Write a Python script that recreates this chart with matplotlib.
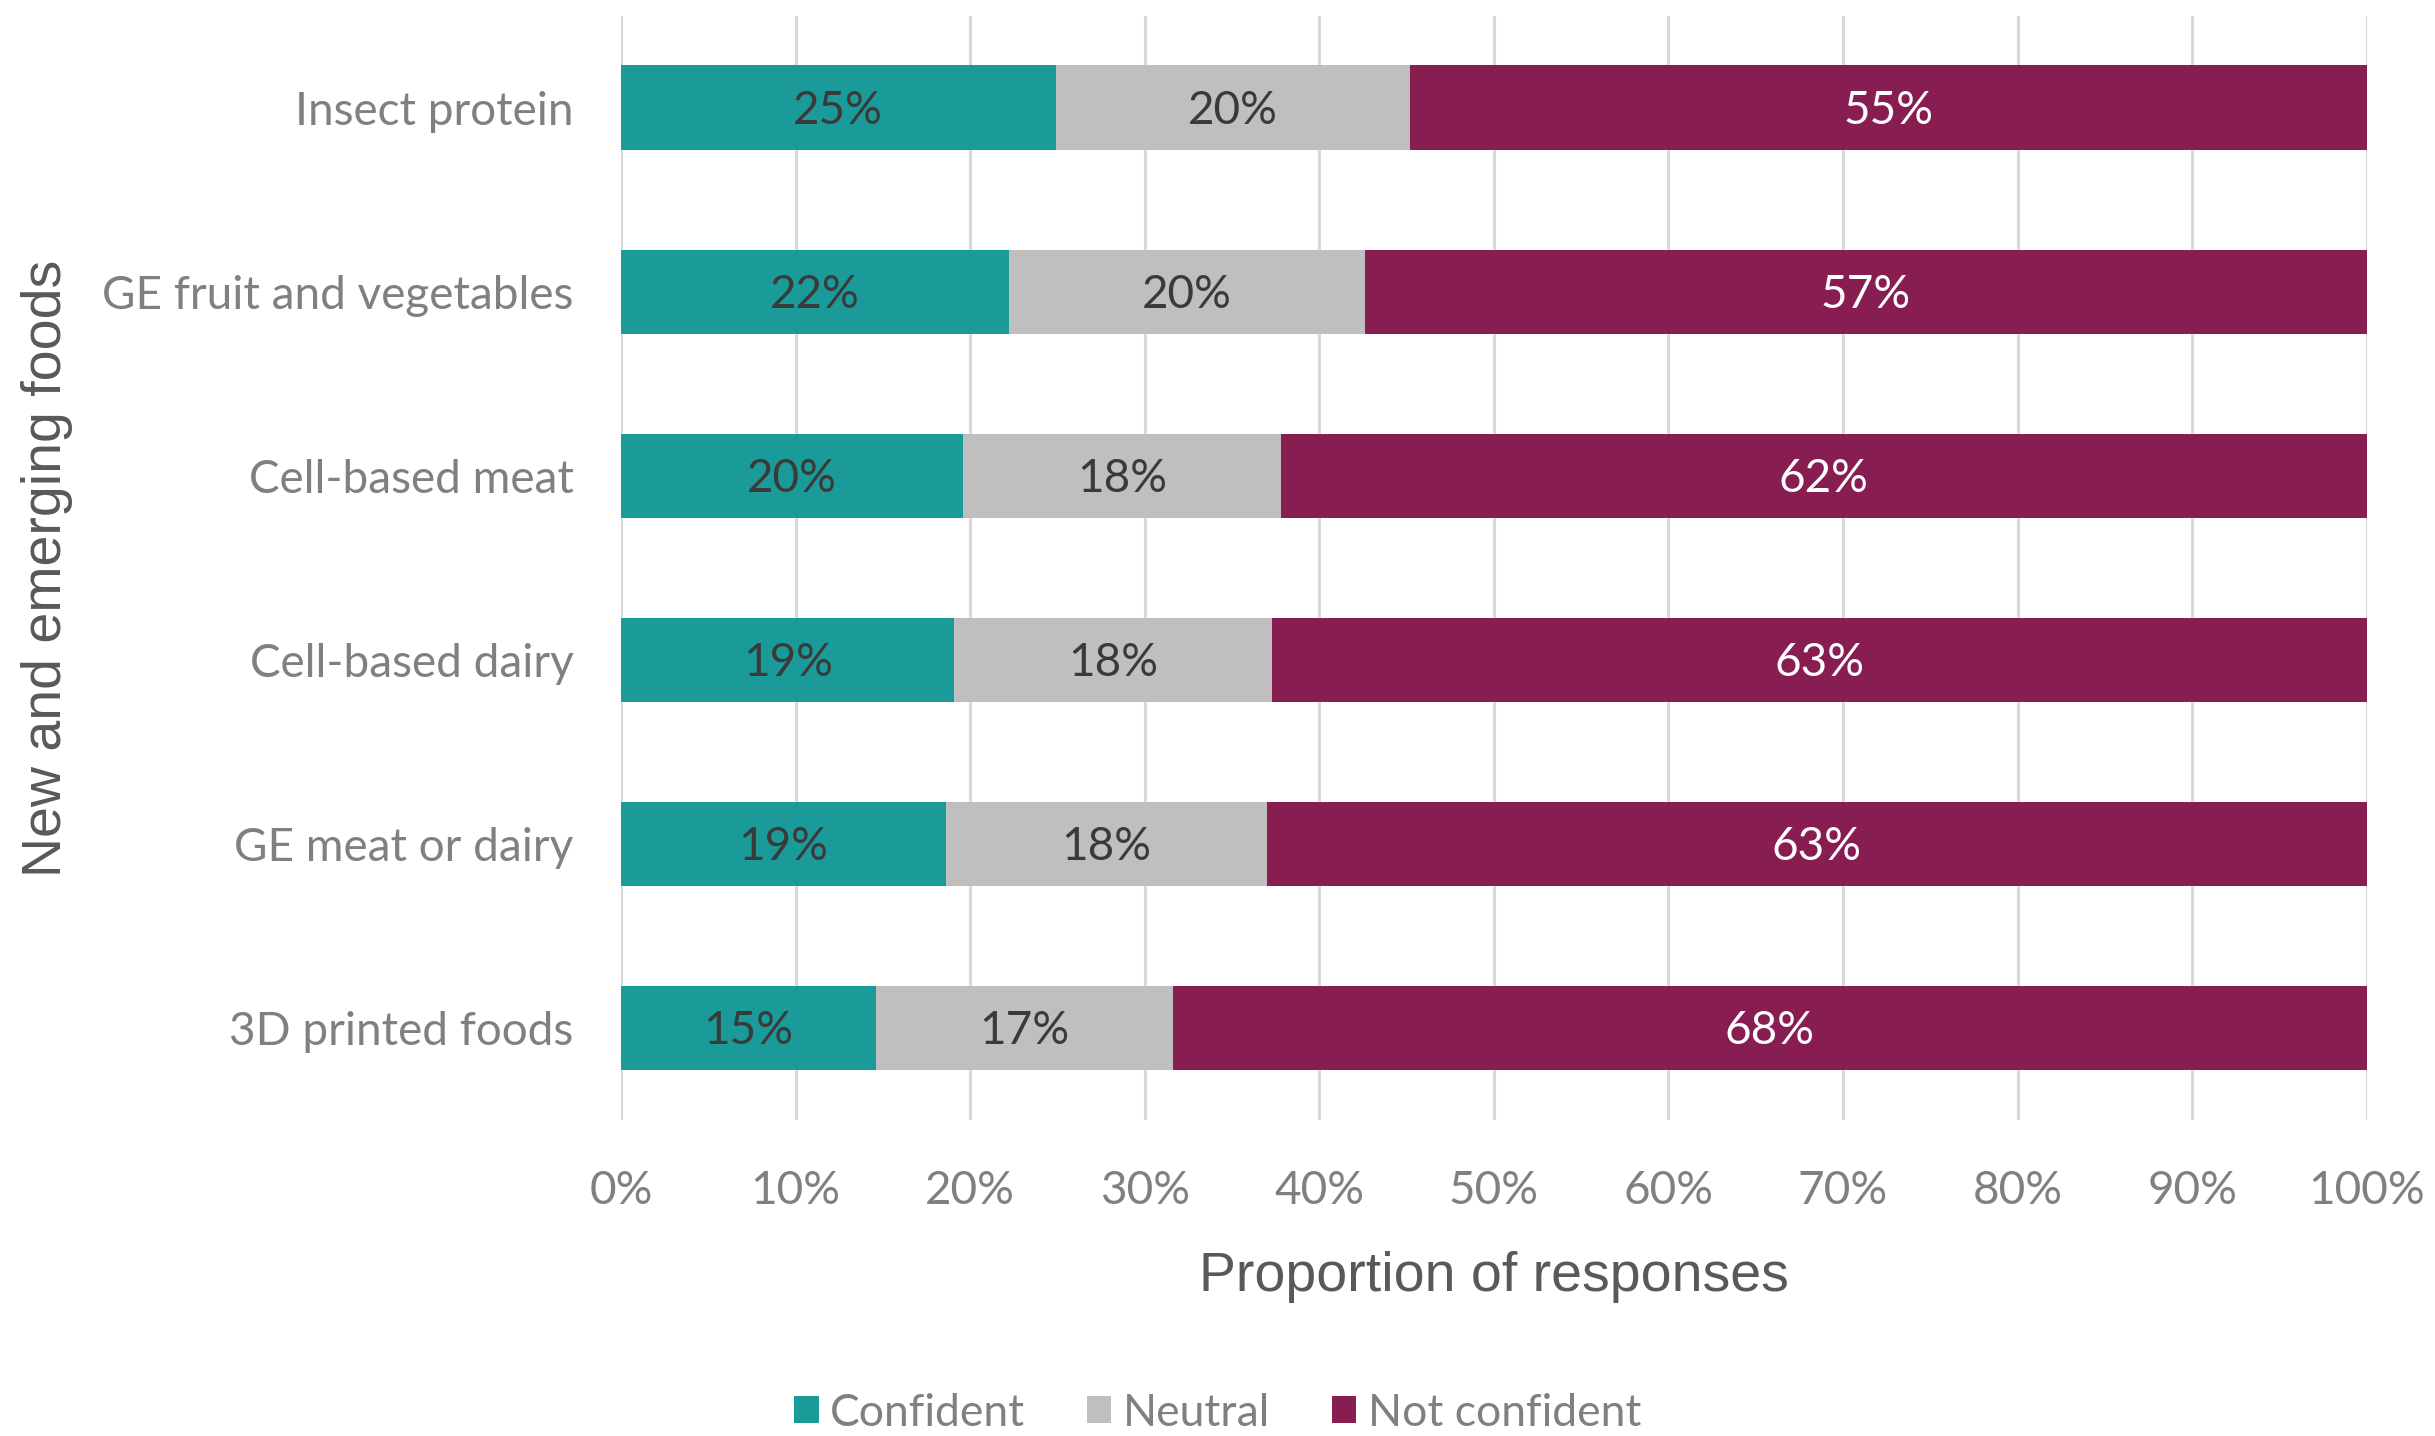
import matplotlib
matplotlib.use("Agg")
import matplotlib.pyplot as plt
from matplotlib.ticker import FuncFormatter
import numpy as np

foods = ["Insect protein", "GE fruit and vegetables", "Cell-based meat",
         "Cell-based dairy", "GE meat or dairy", "3D printed foods"]
confident = [24.9, 22.2, 19.6, 19.1, 18.6, 14.6]
neutral = [20.3, 20.4, 18.2, 18.2, 18.4, 17.0]
not_confident = [54.8, 57.4, 62.2, 62.7, 63.0, 68.4]
series_names = ["Confident", "Neutral", "Not confident"]
colors = ["#1b9a9a", "#bfbfbf", "#881d52"]
label_colors = ["#3a3a3a", "#3a3a3a", "white"]

tick_font = "Lato"
title_font = "Liberation Sans"

fig = plt.figure(figsize=(24.35, 14.36), dpi=100)
ax = fig.add_axes([0.255, 0.22, 0.717, 0.769])

y = np.arange(len(foods))
left = np.zeros(len(foods))
for name, vals, col, lc in zip(series_names, [confident, neutral, not_confident], colors, label_colors):
    vals = np.array(vals)
    bars = ax.barh(y, vals, left=left, height=0.46, color=col, label=name, zorder=3)
    for b, v in zip(bars, vals):
        ax.text(b.get_x() + b.get_width() / 2, b.get_y() + b.get_height() / 2 + 0.015,
                f"{v:.0f}%", ha="center", va="center", color=lc,
                fontsize=33, family=tick_font, zorder=4)
    left += vals

ax.set_xlim(0, 100)
ax.set_ylim(len(foods) - 0.5, -0.5)
ax.set_xticks(np.arange(0, 101, 10))
ax.xaxis.set_major_formatter(FuncFormatter(lambda v, p: f"{v:.0f}%"))
ax.set_yticks(y)
ax.set_yticklabels(foods)
ax.grid(axis="x", color="#d9d9d9", linewidth=2.2, zorder=0)
for s in ax.spines.values():
    s.set_visible(False)
ax.tick_params(axis="both", length=0, labelcolor="#808080", labelsize=33)
ax.tick_params(axis="y", pad=34)
ax.tick_params(axis="x", pad=36)
for t in ax.get_xticklabels() + ax.get_yticklabels():
    t.set_family(tick_font)

ax.set_xlabel("Proportion of responses", fontsize=40, color="#595959",
              family=title_font, labelpad=28)
ax.set_ylabel("New and emerging foods", fontsize=40, color="#595959",
              family=title_font)
ax.yaxis.set_label_coords(-0.314, 0.5)

leg = fig.legend(loc="center", bbox_to_anchor=(0.5, 0.016), ncol=3, frameon=False,
                 handlelength=0.55, handleheight=0.55, handletextpad=0.25,
                 columnspacing=1.4, prop={"family": tick_font, "size": 32})
for t in leg.get_texts():
    t.set_color("#808080")

fig.savefig("out.png", dpi=100)
